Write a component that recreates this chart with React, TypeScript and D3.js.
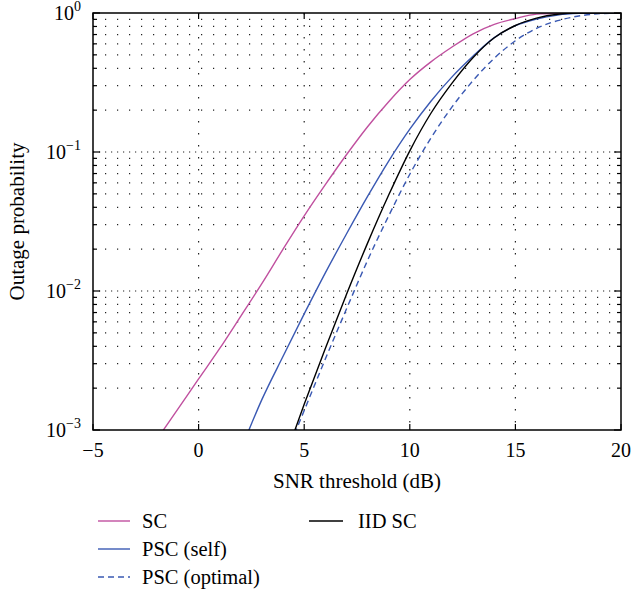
import React from 'react';
import * as d3 from 'd3';

// SNR threshold (dB) sample points
const snr = [-2, -1, 0, 1, 2, 3, 4, 5, 6, 7, 8, 9, 10, 11, 12, 13, 14, 15, 16, 17, 18, 19, 20];

// outage probability per curve (null = below the plotted range)
const sc = [0.000845, 0.0014, 0.00233, 0.00386, 0.0066, 0.01135, 0.02, 0.0347, 0.0582, 0.0955, 0.152, 0.23, 0.332, 0.445, 0.569, 0.708, 0.828, 0.912, 0.982, 0.997, 1, 1, 1];
const pscSelf = [null, null, null, null, 0.00072, 0.00166, 0.00339, 0.00684, 0.0135, 0.0257, 0.0479, 0.0861, 0.146, 0.232, 0.347, 0.49, 0.665, 0.81, 0.905, 0.966, 0.993, 1, 1];
const pscOptimal = [null, null, null, null, null, null, 0.00059, 0.00138, 0.00324, 0.00741, 0.0166, 0.0347, 0.0692, 0.126, 0.211, 0.327, 0.473, 0.631, 0.776, 0.881, 0.951, 0.989, 1];
const iidSc = [null, null, null, null, null, null, 0.00058, 0.00153, 0.00385, 0.00944, 0.0221, 0.049, 0.102, 0.19, 0.313, 0.479, 0.664, 0.813, 0.918, 0.979, 0.998, 1, 1];

const xTicks = [-5, 0, 5, 10, 15, 20];
const yDecades = [-3, -2, -1, 0];
const minorMult = [2, 3, 4, 5, 6, 7, 8, 9];

const series = [
  { name: 'SC', values: sc, color: '#c0509f', dash: null },
  { name: 'PSC (self)', values: pscSelf, color: '#3a59b3', dash: null },
  { name: 'PSC (optimal)', values: pscOptimal, color: '#3a59b3', dash: '6,4' },
  { name: 'IID SC', values: iidSc, color: '#000000', dash: null },
];

const font = '"Liberation Serif", "DejaVu Serif", serif';

export default function App() {
  const left = 93, right = 621, top = 13, bottom = 430;
  const x = d3.scaleLinear().domain([-5, 20]).range([left, right]);
  const y = d3.scaleLog().domain([1e-3, 1]).range([bottom, top]);

  const line = d3.line<number | null>()
    .defined(d => d != null)
    .x((_, i) => x(snr[i]))
    .y(d => y(d as number))
    .curve(d3.curveMonotoneX);

  const minors: number[] = [];
  yDecades.slice(0, 3).forEach(e => minorMult.forEach(k => minors.push(k * Math.pow(10, e))));
  const majors = [1e-2, 1e-1];

  const legendLeft = [
    { s: series[0], y: 521 },
    { s: series[1], y: 549 },
    { s: series[2], y: 577 },
  ];

  return (
    <svg width={634} height={594} style={{ position: 'absolute', left: 0, top: 0, background: '#fff' }}>
      <defs>
        <clipPath id="plot">
          <rect x={left} y={top} width={right - left} height={bottom - top} />
        </clipPath>
      </defs>

      {/* grid */}
      <g stroke="#222" strokeWidth={1.2}>
        {minors.map(v => (
          <line key={'mn' + v} x1={left} x2={right} y1={y(v)} y2={y(v)} strokeDasharray="1.2,10.8" />
        ))}
        {majors.map(v => (
          <line key={'mj' + v} x1={left} x2={right} y1={y(v)} y2={y(v)} strokeDasharray="1.2,4.8" />
        ))}
        {xTicks.slice(1, -1).map(v => (
          <line key={'vx' + v} x1={x(v)} x2={x(v)} y1={top} y2={bottom} strokeDasharray="1.5,10.5" />
        ))}
      </g>

      {/* curves */}
      <g clipPath="url(#plot)" fill="none" strokeWidth={1.4}>
        {series.map(s => (
          <path key={s.name} d={line(s.values) || ''} stroke={s.color} strokeDasharray={s.dash || undefined} />
        ))}
      </g>

      {/* ticks */}
      <g stroke="#000" strokeWidth={1.2}>
        {minors.map(v => (
          <g key={'t' + v}>
            <line x1={left} x2={left + 4} y1={y(v)} y2={y(v)} />
            <line x1={right} x2={right - 4} y1={y(v)} y2={y(v)} />
          </g>
        ))}
        {yDecades.map(e => (
          <g key={'T' + e}>
            <line x1={left} x2={left + 7} y1={y(Math.pow(10, e))} y2={y(Math.pow(10, e))} />
            <line x1={right} x2={right - 7} y1={y(Math.pow(10, e))} y2={y(Math.pow(10, e))} />
          </g>
        ))}
        {xTicks.map(v => (
          <g key={'x' + v}>
            <line x1={x(v)} x2={x(v)} y1={bottom} y2={bottom - 6} />
            <line x1={x(v)} x2={x(v)} y1={top} y2={top + 6} />
          </g>
        ))}
      </g>

      <rect x={left} y={top} width={right - left} height={bottom - top} fill="none" stroke="#000" strokeWidth={1.5} />

      {/* tick labels */}
      <g fontFamily={font} fontSize={20} fill="#000">
        {xTicks.map(v => (
          <text key={'xl' + v} x={x(v)} y={bottom + 27} textAnchor="middle">
            {v < 0 ? '\u2212' + Math.abs(v) : v}
          </text>
        ))}
        {yDecades.map(e => (
          <text key={'yl' + e} x={left - 12} y={y(Math.pow(10, e)) + 7} textAnchor="end">
            10
            <tspan fontSize={14} dy={-9}>{e < 0 ? '\u2212' + Math.abs(e) : e}</tspan>
          </text>
        ))}
      </g>
      <g fontFamily={font} fontSize={21} fill="#000">
        <text x={(left + right) / 2} y={488} textAnchor="middle">SNR threshold (dB)</text>
        <text transform={`translate(24,${(top + bottom) / 2}) rotate(-90)`} textAnchor="middle">Outage probability</text>
      </g>

      {/* legend */}
      <g fontFamily={font} fontSize={20.5} fill="#000">
        {legendLeft.map(({ s, y: ly }) => (
          <g key={'lg' + s.name}>
            <line x1={98} x2={130} y1={ly} y2={ly} stroke={s.color} strokeWidth={1.4} strokeDasharray={s.dash || undefined} />
            <text x={142} y={ly + 7}>{s.name}</text>
          </g>
        ))}
        <line x1={309} x2={343} y1={521} y2={521} stroke={series[3].color} strokeWidth={1.4} />
        <text x={358} y={528}>{series[3].name}</text>
      </g>
    </svg>
  );
}
